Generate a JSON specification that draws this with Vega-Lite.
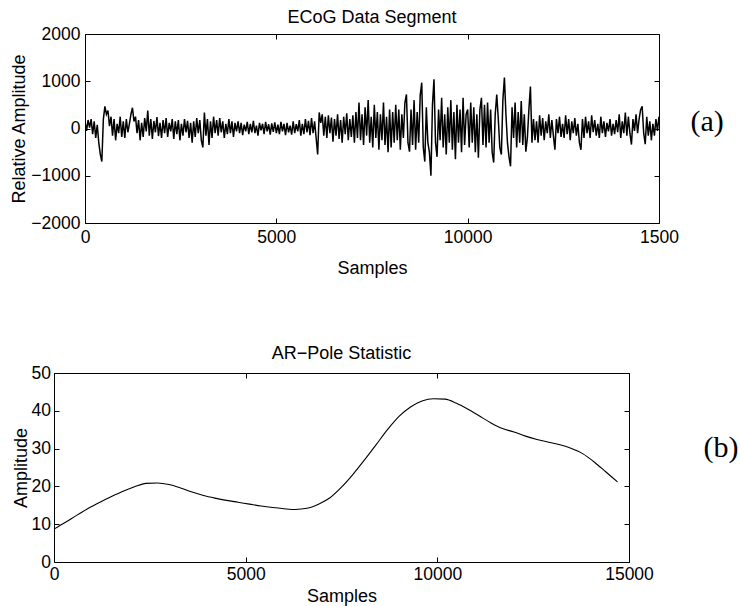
{
  "$schema": "https://vega.github.io/schema/vega-lite/v6.json",
  "background": "white",
  "padding": {"left": 10, "top": 8, "right": 0, "bottom": 0},
  "spacing": 66,
  "config": {
    "font": "Liberation Sans",
    "view": {"stroke": "black", "strokeWidth": 1},
    "axis": {"grid": false, "domain": false, "tickColor": "black", "tickSize": -5, "tickWidth": 1, "labelColor": "black", "labelFont": "Liberation Sans", "labelFontSize": 17.5, "titleColor": "black", "titleFont": "Liberation Sans", "titleFontSize": 18, "titleFontWeight": "normal", "labelFlush": false, "labelOverlap": false, "format": "d"}
  },
  "vconcat": [
    {
      "spacing": -45,
      "hconcat": [
        {"width": 1, "height": 1, "view": {"stroke": null}, "data": {"values": []}, "mark": {"type": "point", "opacity": 0}, "encoding": {}},
        {
      "width": 574,
      "height": 189,
      "title": {"text": "ECoG Data Segment", "font": "Liberation Sans", "fontSize": 18, "fontWeight": "normal", "color": "black", "anchor": "middle", "frame": "group", "baseline": "alphabetic", "offset": -16},
      "data": {"values": [
        {"s":0,"v":150},{"s":40,"v":-50},{"s":80,"v":180},{"s":120,"v":20},{"s":160,"v":200},{"s":200,"v":-120},{"s":240,"v":150},{"s":280,"v":-200},{"s":320,"v":80},{"s":360,"v":-300},{"s":400,"v":-550},{"s":440,"v":-700},{"s":480,"v":200},{"s":520,"v":470},{"s":560,"v":300},{"s":600,"v":380},{"s":640,"v":50},{"s":680,"v":250},{"s":720,"v":-150},{"s":760,"v":200},{"s":800,"v":-250},{"s":840,"v":100},{"s":880,"v":-100},{"s":920,"v":250},{"s":960,"v":-180},
        {"s":1000,"v":150},{"s":1040,"v":-200},{"s":1080,"v":200},{"s":1120,"v":-80},{"s":1160,"v":100},{"s":1200,"v":300},{"s":1240,"v":440},{"s":1280,"v":150},{"s":1320,"v":250},{"s":1360,"v":-100},{"s":1400,"v":180},{"s":1440,"v":-250},{"s":1480,"v":120},{"s":1520,"v":-180},{"s":1560,"v":220},{"s":1600,"v":-60},{"s":1640,"v":380},{"s":1680,"v":-150},{"s":1720,"v":200},{"s":1760,"v":-220},{"s":1800,"v":160},{"s":1840,"v":-80},{"s":1880,"v":240},{"s":1920,"v":-160},{"s":1960,"v":120},
        {"s":2000,"v":-200},{"s":2040,"v":180},{"s":2080,"v":-100},{"s":2120,"v":220},{"s":2160,"v":-180},{"s":2200,"v":120},{"s":2240,"v":-60},{"s":2280,"v":200},{"s":2320,"v":-220},{"s":2360,"v":150},{"s":2400,"v":-120},{"s":2440,"v":180},{"s":2480,"v":-250},{"s":2520,"v":100},{"s":2560,"v":-150},{"s":2600,"v":200},{"s":2640,"v":-80},{"s":2680,"v":160},{"s":2720,"v":-200},{"s":2760,"v":120},{"s":2800,"v":-300},{"s":2840,"v":150},{"s":2880,"v":-180},{"s":2920,"v":220},{"s":2960,"v":-100},
        {"s":3000,"v":180},{"s":3040,"v":-250},{"s":3080,"v":-400},{"s":3120,"v":340},{"s":3160,"v":-150},{"s":3200,"v":200},{"s":3240,"v":-350},{"s":3280,"v":150},{"s":3320,"v":-200},{"s":3360,"v":250},{"s":3400,"v":-100},{"s":3440,"v":180},{"s":3480,"v":-150},{"s":3520,"v":220},{"s":3560,"v":-80},{"s":3600,"v":150},{"s":3640,"v":-200},{"s":3680,"v":100},{"s":3720,"v":-120},{"s":3760,"v":200},{"s":3800,"v":-100},{"s":3840,"v":150},{"s":3880,"v":-180},{"s":3920,"v":120},{"s":3960,"v":-60},
        {"s":4000,"v":150},{"s":4040,"v":-100},{"s":4080,"v":120},{"s":4120,"v":-140},{"s":4160,"v":80},{"s":4200,"v":-60},{"s":4240,"v":140},{"s":4280,"v":-120},{"s":4320,"v":100},{"s":4360,"v":-80},{"s":4400,"v":160},{"s":4440,"v":-100},{"s":4480,"v":60},{"s":4520,"v":-150},{"s":4560,"v":120},{"s":4600,"v":-40},{"s":4640,"v":100},{"s":4680,"v":-120},{"s":4720,"v":140},{"s":4760,"v":-60},{"s":4800,"v":90},{"s":4840,"v":-130},{"s":4880,"v":110},{"s":4920,"v":-70},{"s":4960,"v":130},
        {"s":5000,"v":-100},{"s":5040,"v":80},{"s":5080,"v":-120},{"s":5120,"v":140},{"s":5160,"v":-60},{"s":5200,"v":100},{"s":5240,"v":-140},{"s":5280,"v":120},{"s":5320,"v":-80},{"s":5360,"v":60},{"s":5400,"v":-130},{"s":5440,"v":150},{"s":5480,"v":-100},{"s":5520,"v":90},{"s":5560,"v":-60},{"s":5600,"v":180},{"s":5640,"v":-150},{"s":5680,"v":100},{"s":5720,"v":-120},{"s":5760,"v":200},{"s":5800,"v":-80},{"s":5840,"v":160},{"s":5880,"v":-140},{"s":5920,"v":220},{"s":5960,"v":-100},
        {"s":6000,"v":150},{"s":6040,"v":-200},{"s":6080,"v":-550},{"s":6120,"v":340},{"s":6160,"v":120},{"s":6200,"v":300},{"s":6240,"v":-150},{"s":6280,"v":250},{"s":6320,"v":-200},{"s":6360,"v":280},{"s":6400,"v":-100},{"s":6440,"v":230},{"s":6480,"v":-280},{"s":6520,"v":200},{"s":6560,"v":-150},{"s":6600,"v":300},{"s":6640,"v":-220},{"s":6680,"v":180},{"s":6720,"v":-300},{"s":6760,"v":250},{"s":6800,"v":-120},{"s":6840,"v":320},{"s":6880,"v":-250},{"s":6920,"v":200},{"s":6960,"v":-180},
        {"s":7000,"v":280},{"s":7040,"v":-300},{"s":7080,"v":350},{"s":7120,"v":-200},{"s":7160,"v":550},{"s":7200,"v":-250},{"s":7240,"v":300},{"s":7280,"v":-350},{"s":7320,"v":450},{"s":7360,"v":-150},{"s":7400,"v":600},{"s":7440,"v":-300},{"s":7480,"v":250},{"s":7520,"v":-400},{"s":7560,"v":500},{"s":7600,"v":-200},{"s":7640,"v":350},{"s":7680,"v":-450},{"s":7720,"v":300},{"s":7760,"v":-250},{"s":7800,"v":550},{"s":7840,"v":-350},{"s":7880,"v":250},{"s":7920,"v":-500},{"s":7960,"v":400},
        {"s":8000,"v":-400},{"s":8040,"v":350},{"s":8080,"v":-300},{"s":8120,"v":500},{"s":8160,"v":-250},{"s":8200,"v":400},{"s":8240,"v":-450},{"s":8280,"v":300},{"s":8320,"v":-200},{"s":8360,"v":550},{"s":8400,"v":720},{"s":8440,"v":-300},{"s":8480,"v":-490},{"s":8520,"v":400},{"s":8560,"v":-350},{"s":8600,"v":600},{"s":8640,"v":-450},{"s":8680,"v":350},{"s":8720,"v":-300},{"s":8760,"v":700},{"s":8800,"v":970},{"s":8840,"v":-400},{"s":8880,"v":-700},{"s":8920,"v":450},{"s":8960,"v":-300},
        {"s":9000,"v":-500},{"s":9040,"v":-1000},{"s":9080,"v":500},{"s":9120,"v":1040},{"s":9160,"v":-300},{"s":9200,"v":-600},{"s":9240,"v":400},{"s":9280,"v":-250},{"s":9320,"v":650},{"s":9360,"v":-400},{"s":9400,"v":300},{"s":9440,"v":-550},{"s":9480,"v":450},{"s":9520,"v":-300},{"s":9560,"v":600},{"s":9600,"v":-450},{"s":9640,"v":350},{"s":9680,"v":-650},{"s":9720,"v":500},{"s":9760,"v":-300},{"s":9800,"v":400},{"s":9840,"v":-500},{"s":9880,"v":650},{"s":9920,"v":-350},{"s":9960,"v":300},
        {"s":10000,"v":400},{"s":10040,"v":-400},{"s":10080,"v":550},{"s":10120,"v":-300},{"s":10160,"v":450},{"s":10200,"v":-500},{"s":10240,"v":300},{"s":10280,"v":-620},{"s":10320,"v":400},{"s":10360,"v":650},{"s":10400,"v":-350},{"s":10440,"v":500},{"s":10480,"v":-400},{"s":10520,"v":550},{"s":10560,"v":-300},{"s":10600,"v":400},{"s":10640,"v":-500},{"s":10680,"v":-720},{"s":10720,"v":300},{"s":10760,"v":720},{"s":10800,"v":200},{"s":10840,"v":-400},{"s":10880,"v":-550},{"s":10920,"v":600},{"s":10960,"v":1080},
        {"s":11000,"v":300},{"s":11040,"v":-300},{"s":11080,"v":-600},{"s":11120,"v":-800},{"s":11160,"v":450},{"s":11200,"v":-200},{"s":11240,"v":550},{"s":11280,"v":-400},{"s":11320,"v":350},{"s":11360,"v":-300},{"s":11400,"v":580},{"s":11440,"v":-350},{"s":11480,"v":300},{"s":11520,"v":-490},{"s":11560,"v":-200},{"s":11600,"v":400},{"s":11640,"v":890},{"s":11680,"v":-300},{"s":11720,"v":200},{"s":11760,"v":-250},{"s":11800,"v":150},{"s":11840,"v":-300},{"s":11880,"v":280},{"s":11920,"v":-150},{"s":11960,"v":220},
        {"s":12000,"v":-250},{"s":12040,"v":150},{"s":12080,"v":-100},{"s":12120,"v":300},{"s":12160,"v":-200},{"s":12200,"v":180},{"s":12240,"v":-150},{"s":12280,"v":-450},{"s":12320,"v":200},{"s":12360,"v":-100},{"s":12400,"v":250},{"s":12440,"v":-180},{"s":12480,"v":100},{"s":12520,"v":-200},{"s":12560,"v":280},{"s":12600,"v":-120},{"s":12640,"v":200},{"s":12680,"v":-250},{"s":12720,"v":150},{"s":12760,"v":-100},{"s":12800,"v":220},{"s":12840,"v":-150},{"s":12880,"v":100},{"s":12920,"v":-300},{"s":12960,"v":-450},
        {"s":13000,"v":200},{"s":13040,"v":-200},{"s":13080,"v":250},{"s":13120,"v":-100},{"s":13160,"v":150},{"s":13200,"v":-200},{"s":13240,"v":280},{"s":13280,"v":-80},{"s":13320,"v":180},{"s":13360,"v":-150},{"s":13400,"v":100},{"s":13440,"v":-200},{"s":13480,"v":250},{"s":13520,"v":-100},{"s":13560,"v":150},{"s":13600,"v":-180},{"s":13640,"v":120},{"s":13680,"v":-60},{"s":13720,"v":200},{"s":13760,"v":-150},{"s":13800,"v":100},{"s":13840,"v":-120},{"s":13880,"v":180},{"s":13920,"v":-80},{"s":13960,"v":300},
        {"s":14000,"v":-200},{"s":14040,"v":150},{"s":14080,"v":-100},{"s":14120,"v":340},{"s":14160,"v":-150},{"s":14200,"v":250},{"s":14240,"v":-100},{"s":14280,"v":-340},{"s":14320,"v":200},{"s":14360,"v":-50},{"s":14400,"v":300},{"s":14440,"v":-100},{"s":14480,"v":200},{"s":14520,"v":400},{"s":14560,"v":470},{"s":14600,"v":-100},{"s":14640,"v":-330},{"s":14680,"v":250},{"s":14720,"v":-150},{"s":14760,"v":150},{"s":14800,"v":-250},{"s":14840,"v":100},{"s":14880,"v":-150},{"s":14920,"v":200},{"s":14960,"v":-50},{"s":15000,"v":250}
      ]},
      "layer": [
        {
          "mark": {"type": "line", "color": "black", "strokeWidth": 1.5, "clip": true},
          "encoding": {
            "x": {"field": "s", "type": "quantitative", "scale": {"domain": [0, 15000], "nice": false, "zero": false},
                  "axis": {"orient": "bottom", "values": [0, 5000, 10000, 15000], "labelExpr": "datum.value == 15000 ? '1500' : datum.label", "title": "Samples", "labelPadding": 10, "titlePadding": 14}},
            "y": {"field": "v", "type": "quantitative", "scale": {"domain": [-2000, 2000], "nice": false, "zero": false},
                  "axis": {"orient": "left", "values": [-2000, -1000, 0, 1000, 2000], "title": "Relative Amplitude", "labelPadding": 10, "titlePadding": 2}}
          }
        },
        {
          "mark": {"type": "line", "opacity": 0},
          "encoding": {
            "x": {"field": "s", "type": "quantitative", "axis": {"orient": "top", "values": [0, 5000, 10000, 15000], "labels": false, "title": null}},
            "y": {"field": "v", "type": "quantitative", "axis": {"orient": "right", "values": [-2000, -1000, 0, 1000, 2000], "labels": false, "title": "(a)", "titleFont": "Liberation Serif", "titleFontSize": 30, "titleAngle": 0, "titleAlign": "left", "titleBaseline": "middle", "titleX": 31, "titleY": 87}}
          }
        }
      ],
      "resolve": {"axis": {"x": "independent", "y": "independent"}}
        }
      ]
    },
    {
      "width": 575,
      "height": 189,
      "title": {"text": "AR\u2212Pole Statistic", "font": "Liberation Sans", "fontSize": 18, "fontWeight": "normal", "color": "black", "anchor": "middle", "frame": "group", "baseline": "alphabetic", "offset": -13},
      "data": {"values": [
        {"s":0,"v":8.7},{"s":300,"v":10.5},{"s":600,"v":12.4},{"s":900,"v":14.2},{"s":1200,"v":15.8},{"s":1500,"v":17.3},{"s":1800,"v":18.7},{"s":2100,"v":19.9},{"s":2400,"v":20.8},{"s":2700,"v":20.9},{"s":3000,"v":20.5},{"s":3300,"v":19.6},{"s":3600,"v":18.5},{"s":3900,"v":17.6},{"s":4200,"v":16.9},{"s":4500,"v":16.3},{"s":4800,"v":15.8},{"s":5100,"v":15.3},{"s":5400,"v":14.8},{"s":5700,"v":14.4},{"s":6000,"v":14.1},{"s":6300,"v":13.9},{"s":6600,"v":14.2},{"s":6900,"v":15.3},{"s":7200,"v":17.0},{"s":7500,"v":19.8},{"s":7800,"v":23.2},{"s":8100,"v":27.0},{"s":8400,"v":31.0},{"s":8700,"v":35.0},{"s":9000,"v":38.5},{"s":9300,"v":41.0},{"s":9600,"v":42.6},{"s":9900,"v":43.2},{"s":10200,"v":43.1},{"s":10500,"v":42.0},{"s":10800,"v":40.4},{"s":11100,"v":38.6},{"s":11400,"v":36.8},{"s":11700,"v":35.3},{"s":12000,"v":34.4},{"s":12300,"v":33.3},{"s":12600,"v":32.4},{"s":12900,"v":31.7},{"s":13200,"v":31.0},{"s":13500,"v":30.0},{"s":13800,"v":28.6},{"s":14100,"v":26.4},{"s":14400,"v":23.8},{"s":14700,"v":21.2}
      ]},
      "layer": [
        {
          "mark": {"type": "line", "color": "black", "strokeWidth": 1.1, "interpolate": "monotone"},
          "encoding": {
            "x": {"field": "s", "type": "quantitative", "scale": {"domain": [0, 15000], "nice": false, "zero": false},
                  "axis": {"orient": "bottom", "values": [0, 5000, 10000, 15000], "title": "Samples", "labelPadding": 8, "titlePadding": 5}},
            "y": {"field": "v", "type": "quantitative", "scale": {"domain": [0, 50], "nice": false, "zero": false},
                  "axis": {"orient": "left", "values": [0, 10, 20, 30, 40, 50], "title": "Amplitude", "labelPadding": 8.5, "titlePadding": 1}}
          }
        },
        {
          "mark": {"type": "line", "opacity": 0},
          "encoding": {
            "x": {"field": "s", "type": "quantitative", "axis": {"orient": "top", "values": [0, 5000, 10000, 15000], "labels": false, "title": null}},
            "y": {"field": "v", "type": "quantitative", "axis": {"orient": "right", "values": [0, 10, 20, 30, 40, 50], "labels": false, "title": "(b)", "titleFont": "Liberation Serif", "titleFontSize": 30, "titleAngle": 0, "titleAlign": "left", "titleBaseline": "middle", "titleX": 74, "titleY": 74}}
          }
        }
      ],
      "resolve": {"axis": {"x": "independent", "y": "independent"}}
    }
  ]
}
